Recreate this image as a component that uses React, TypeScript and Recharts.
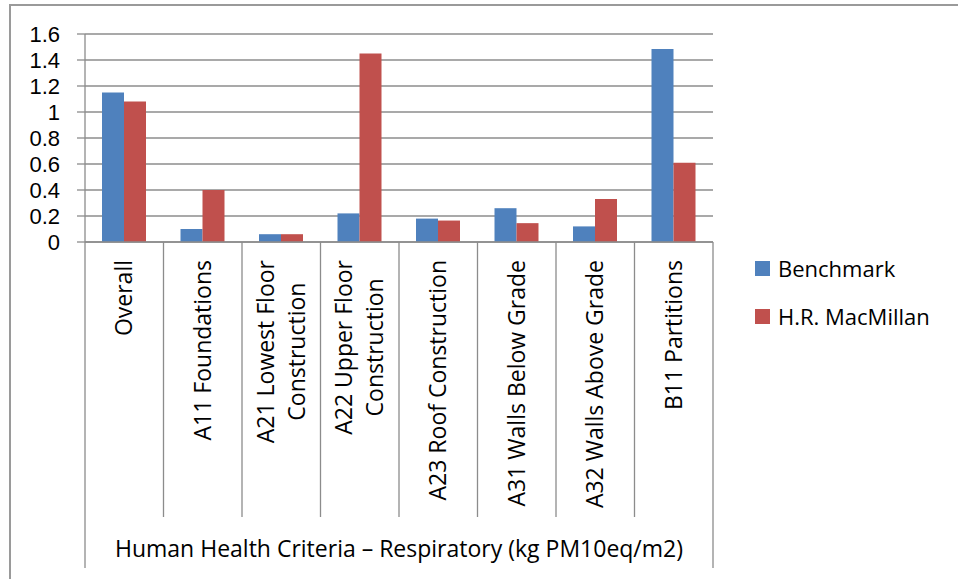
import React from "react";
import { BarChart, Bar, XAxis, YAxis, CartesianGrid } from "recharts";

const categories = [
  "Overall",
  "A11 Foundations",
  "A21 Lowest Floor\nConstruction",
  "A22 Upper Floor\nConstruction",
  "A23 Roof Construction",
  "A31 Walls Below Grade",
  "A32 Walls Above Grade",
  "B11 Partitions",
];
const benchmark = [1.15, 0.1, 0.06, 0.22, 0.18, 0.26, 0.12, 1.485];
const macmillan = [1.08, 0.4, 0.06, 1.45, 0.165, 0.145, 0.33, 0.61];
const seriesNames = ["Benchmark", "H.R. MacMillan"];
const seriesColors = ["#4F81BD", "#C0504D"];
const yTicks = [0, 0.2, 0.4, 0.6, 0.8, 1, 1.2, 1.4, 1.6];
const axisTitle = "Human Health Criteria \u2013 Respiratory (kg PM10eq/m2)";

const data = categories.map((name, i) => ({
  name,
  benchmark: benchmark[i],
  macmillan: macmillan[i],
}));

const W = 958;
const H = 579;
const PLOT_LEFT = 85;
const PLOT_RIGHT = 713;
const PLOT_TOP = 34;
const PLOT_BOTTOM = 242;
const BAND = (PLOT_RIGHT - PLOT_LEFT) / categories.length;
const LABEL_TOP = 260;
const DIVIDER_BOTTOM = 517;
const FRAME_BOTTOM = 568;
const FONT = "'Open Sans', sans-serif";
const TICK_FONT = "'Liberation Sans', Arial, sans-serif";
const LABEL_SIZE = 23;
const LINE_COLOR = "#8c8c8c";

let ctx: CanvasRenderingContext2D | null = null;
function textWidth(s: string) {
  if (!ctx) ctx = document.createElement("canvas").getContext("2d");
  if (!ctx) return s.length * 11;
  ctx.font = `${LABEL_SIZE}px ${FONT}`;
  return ctx.measureText(s).width;
}

// rotated category labels plus the cell dividers under the axis
function CategoryTick(props: any) {
  const { x, index, payload } = props;
  const lines = String(payload.value).split("\n");
  const maxW = Math.max(...lines.map(textWidth));
  const midY = LABEL_TOP + maxW / 2;
  const left = x - BAND / 2;
  const last = index === categories.length - 1;
  return (
    <g>
      <line
        x1={left} x2={left} y1={PLOT_BOTTOM}
        y2={index === 0 ? FRAME_BOTTOM : DIVIDER_BOTTOM}
        stroke={LINE_COLOR} strokeWidth={1.3}
      />
      {last && (
        <line
          x1={left + BAND} x2={left + BAND} y1={PLOT_BOTTOM} y2={FRAME_BOTTOM}
          stroke={LINE_COLOR} strokeWidth={1.3}
        />
      )}
      {lines.map((ln, i) => {
        const bx = x + 8 + (i - (lines.length - 1) / 2) * 31;
        return (
          <text
            key={i}
            x={bx}
            y={midY}
            textAnchor="middle"
            transform={`rotate(-90 ${bx} ${midY})`}
            fontSize={LABEL_SIZE}
            fontFamily={FONT}
            fill="#000"
          >
            {ln}
          </text>
        );
      })}
    </g>
  );
}

export default function App() {
  return (
    <div style={{ position: "absolute", left: 0, top: 0, width: W, height: H, overflow: "hidden", background: "#fff", fontFamily: FONT }}>
      <div style={{
        position: "absolute", left: 9, top: 4, width: W + 20, height: H + 20,
        borderLeft: "2px solid #9a9a9a", borderTop: "2px solid #9a9a9a",
      }} />
      <div style={{ position: "absolute", left: 0, top: 0 }}>
        <BarChart
          width={W}
          height={H}
          data={data}
          margin={{ top: PLOT_TOP, right: W - PLOT_RIGHT, bottom: 0, left: 0 }}
          barCategoryGap={17}
          barGap={0}
        >
          <CartesianGrid vertical={false} stroke={LINE_COLOR} strokeWidth={1.3} />
          <XAxis
            dataKey="name"
            interval={0}
            height={H - PLOT_BOTTOM}
            tickLine={false}
            axisLine={{ stroke: LINE_COLOR, strokeWidth: 1.3 }}
            tick={<CategoryTick />}
            label={{ value: axisTitle, position: "insideBottom", offset: 22, fill: "#000", fontSize: 23, fontFamily: FONT }}
          />
          <YAxis
            width={PLOT_LEFT}
            domain={[0, 1.6]}
            ticks={yTicks}
            interval={0}
            tickSize={8}
            tickMargin={17}
            tickLine={{ stroke: LINE_COLOR, strokeWidth: 1.3 }}
            axisLine={{ stroke: LINE_COLOR, strokeWidth: 1.3 }}
            tick={{ fill: "#000", fontSize: 22, fontFamily: TICK_FONT }}
          />
          <Bar dataKey="benchmark" name={seriesNames[0]} fill={seriesColors[0]} isAnimationActive={false} />
          <Bar dataKey="macmillan" name={seriesNames[1]} fill={seriesColors[1]} isAnimationActive={false} />
        </BarChart>
      </div>
      {seriesNames.map((n, i) => (
        <div key={n} style={{ position: "absolute", left: 755, top: 244 + i * 48, height: 48, display: "flex", alignItems: "center" }}>
          <div style={{ width: 15, height: 15, background: seriesColors[i], marginRight: 8 }} />
          <span style={{ fontSize: 22, lineHeight: "22px", color: "#000" }}>{n}</span>
        </div>
      ))}
    </div>
  );
}
